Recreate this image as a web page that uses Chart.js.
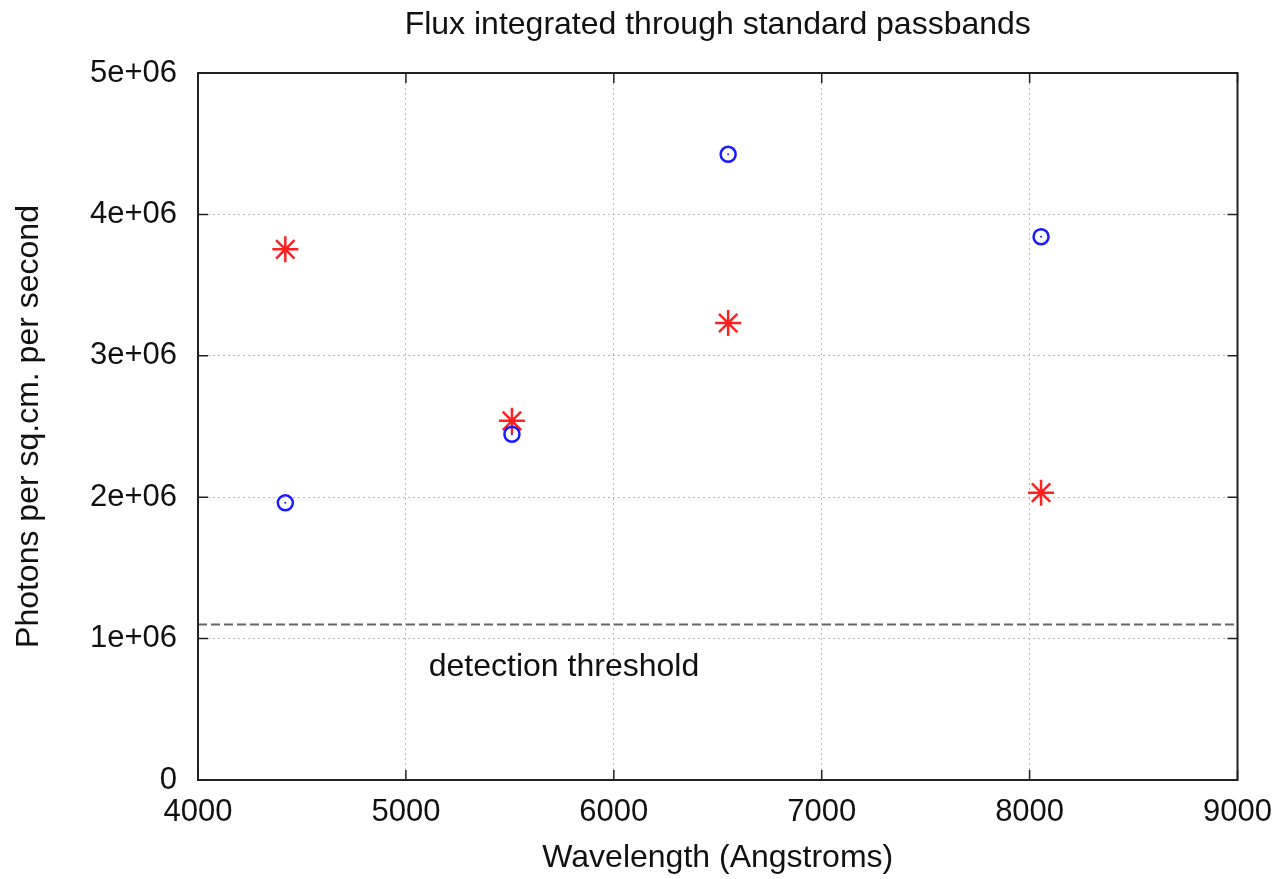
<!DOCTYPE html>
<html>
<head>
  <title>Flux integrated through standard passbands</title>
  <style>
    html, body { margin: 0; padding: 0; background: #fff; }
    #wrap { width: 1286px; height: 879px; }
  </style>
</head>
<body>
  <div id="wrap"><canvas id="chart" width="1286" height="879"></canvas></div>
  <script src="https://cdn.jsdelivr.net/npm/chart.js"></script>
  <script>
    // passband centres (Angstroms) and fluxes
    const wavelengths = [4420, 5510, 6550, 8055];
    const blueFlux = [1.96e6, 2.445e6, 4.425e6, 3.842e6];
    const redFlux = [3.753e6, 2.54e6, 3.232e6, 2.032e6];
    const thresholdX = [4000, 9000];
    const thresholdY = [1.1e6, 1.1e6];
    const xTicks = [4000, 5000, 6000, 7000, 8000, 9000];
    const yTicks = [0, 1e6, 2e6, 3e6, 4e6, 5e6];

    const FONT = '"Liberation Sans", Arial, sans-serif';
    const TITLE = 'Flux integrated through standard passbands';

    function toPoints(xs, ys) {
      return xs.map((x, i) => ({ x: x, y: ys[i] }));
    }

    function yLabel(v) {
      if (v === 0) return '0';
      return (v / 1e6) + 'e+06';
    }

    // gnuplot style frame: box all round with inward tick marks,
    // title centred over the plot, and the threshold note
    const framePlugin = {
      id: 'frame',
      afterDatasetsDraw(chart) {
        const ctx = chart.ctx;
        const a = chart.chartArea;
        const xs = chart.scales.x;
        const ys = chart.scales.y;
        ctx.save();
        ctx.strokeStyle = '#222';
        ctx.lineWidth = 2;
        ctx.strokeRect(a.left, a.top, a.right - a.left, a.bottom - a.top);
        ctx.lineWidth = 1.5;
        ctx.beginPath();
        xTicks.forEach(t => {
          const px = xs.getPixelForValue(t);
          ctx.moveTo(px, a.bottom); ctx.lineTo(px, a.bottom - 10);
          ctx.moveTo(px, a.top); ctx.lineTo(px, a.top + 10);
        });
        yTicks.forEach(t => {
          const py = ys.getPixelForValue(t);
          ctx.moveTo(a.left, py); ctx.lineTo(a.left + 10, py);
          ctx.moveTo(a.right, py); ctx.lineTo(a.right - 10, py);
        });
        ctx.stroke();

        ctx.fillStyle = '#111';
        ctx.font = '32px ' + FONT;
        ctx.textBaseline = 'middle';
        ctx.textAlign = 'left';
        ctx.fillText('detection threshold', xs.getPixelForValue(5110), ys.getPixelForValue(0.8e6));

        ctx.textAlign = 'center';
        ctx.fillText(TITLE, (a.left + a.right) / 2, 25);
        ctx.restore();
      }
    };

    new Chart(document.getElementById('chart'), {
      type: 'scatter',
      data: {
        datasets: [
          {
            label: 'threshold',
            type: 'line',
            data: toPoints(thresholdX, thresholdY),
            borderColor: '#666',
            borderWidth: 2,
            borderDash: [9, 4],
            pointRadius: 0,
            fill: false
          },
          {
            label: 'blue',
            data: toPoints(wavelengths, blueFlux),
            pointStyle: 'circle',
            pointRadius: 7.5,
            borderColor: '#1a1aff',
            backgroundColor: 'rgba(0,0,0,0)',
            borderWidth: 2.5
          },
          {
            label: 'blue centre',
            data: toPoints(wavelengths, blueFlux),
            pointStyle: 'circle',
            pointRadius: 1,
            borderWidth: 0,
            backgroundColor: '#1a1aff'
          },
          {
            label: 'red',
            data: toPoints(wavelengths, redFlux),
            pointStyle: 'star',
            pointRadius: 13,
            borderColor: '#ff2020',
            backgroundColor: '#ff2020',
            borderWidth: 2.5
          }
        ]
      },
      options: {
        responsive: false,
        animation: false,
        layout: { autoPadding: false, padding: { left: 10, right: 41, top: 73, bottom: 2 } },
        plugins: {
          legend: { display: false },
          tooltip: { enabled: false },
          title: { display: false }
        },
        scales: {
          x: {
            type: 'linear',
            min: 4000,
            max: 9000,
            afterBuildTicks: s => { s.ticks = xTicks.map(v => ({ value: v })); },
            afterFit: s => { s.height = 97; },
            ticks: {
              color: '#111',
              font: { family: FONT, size: 31 },
              padding: 14,
              maxRotation: 0,
              callback: v => String(v)
            },
            grid: { color: '#bbb', borderDash: [2, 3], drawTicks: false, tickLength: 0 },
            border: { display: false, dash: [2, 3] },
            title: {
              display: true,
              text: 'Wavelength (Angstroms)',
              color: '#111',
              font: { family: FONT, size: 32 },
              padding: { top: 0, bottom: 0 }
            }
          },
          y: {
            min: 0,
            max: 5e6,
            afterBuildTicks: s => { s.ticks = yTicks.map(v => ({ value: v })); },
            afterFit: s => { s.width = 188; },
            ticks: {
              color: '#111',
              font: { family: FONT, size: 31 },
              padding: 21,
              callback: v => yLabel(v)
            },
            grid: { color: '#bbb', borderDash: [2, 3], drawTicks: false, tickLength: 0 },
            border: { display: false, dash: [2, 3] },
            title: {
              display: true,
              text: 'Photons per sq.cm. per second',
              color: '#111',
              font: { family: FONT, size: 32 },
              padding: { top: 0, bottom: 4 }
            }
          }
        }
      },
      plugins: [framePlugin]
    });
  </script>
</body>
</html>
